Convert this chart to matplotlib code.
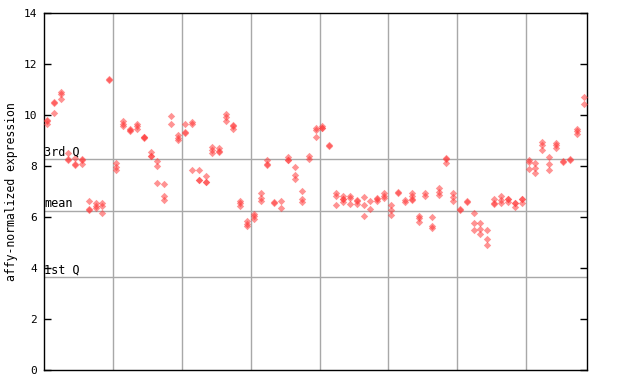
import matplotlib
matplotlib.use("Agg")
import matplotlib.pyplot as plt

# expression values per sample (replicates)
values = [
    [9.8, 9.75, 9.65], [10.5, 10.47, 10.07], [10.9, 10.8, 10.62], [8.5, 8.25, 8.22],
    [8.3, 8.06, 8.04], [8.25, 8.22, 8.07], [6.61, 6.32, 6.25], [6.54, 6.43, 6.34],
    [6.53, 6.43, 6.14], [11.4, 11.37], [8.11, 7.97, 7.82], [9.77, 9.65, 9.58],
    [9.44, 9.38, 9.4], [9.64, 9.55, 9.44], [9.15, 9.1, 9.12], [8.53, 8.4, 8.37],
    [8.2, 8.0, 7.33], [7.29, 6.8, 6.67], [9.97, 9.64], [9.22, 9.09, 9.01],
    [9.64, 9.32, 9.3], [9.73, 9.64, 7.83], [7.83, 7.46, 7.43], [7.61, 7.38, 7.35],
    [8.72, 8.62, 8.52], [8.7, 8.58, 8.55], [10.04, 9.92, 9.74], [9.6, 9.57, 9.44],
    [6.63, 6.53, 6.43], [5.85, 5.72, 5.62], [6.11, 6.01, 5.91], [6.92, 6.75, 6.6],
    [8.24, 8.06, 8.04], [6.57, 6.55], [6.63, 6.34], [8.33, 8.24, 8.22],
    [7.95, 7.64, 7.5], [7.0, 6.7, 6.56], [8.37, 8.28], [9.48, 9.39, 9.15],
    [9.57, 9.49, 9.47], [8.8, 8.77], [6.93, 6.82, 6.46], [6.82, 6.7, 6.68, 6.56],
    [6.82, 6.72, 6.51], [6.65, 6.62, 6.48], [6.77, 6.46, 6.01], [6.63, 6.32],
    [6.73, 6.7, 6.6], [6.93, 6.82, 6.73], [6.46, 6.25, 6.05], [6.96, 6.93],
    [6.67, 6.56], [6.93, 6.82, 6.68, 6.66], [6.03, 5.93, 5.8], [6.93, 6.82],
    [5.99, 5.64, 5.54], [7.12, 6.99, 6.86], [8.3, 8.27, 8.11], [6.93, 6.77, 6.61],
    [6.31, 6.28], [6.6, 6.58], [6.14, 5.75, 5.47], [5.77, 5.51, 5.34],
    [5.47, 5.12, 4.9], [6.69, 6.52, 6.5], [6.82, 6.67, 6.53], [6.7, 6.68, 6.56],
    [6.54, 6.52, 6.4], [6.7, 6.68, 6.53], [8.24, 8.15, 7.87], [8.11, 7.9, 7.72],
    [8.92, 8.81, 8.63], [8.34, 8.08, 7.84], [8.9, 8.8, 8.68], [8.18, 8.16],
    [8.25, 8.23], [9.44, 9.35, 9.25], [10.7, 10.44],
]
q1, mean_val, q3 = 3.63, 6.23, 8.25
yticks = [0, 2, 4, 6, 8, 10, 12, 14]
grid_x = [10.6, 20.6, 30.6, 40.6, 50.6, 60.6, 70.6]

fig = plt.figure(figsize=(6.4, 3.84), dpi=100)
ax = fig.add_axes([44 / 640, 1 - 369.5 / 384, 543 / 640, 356.5 / 384])

for gx in grid_x:
    ax.axvline(gx, color="#a8a8a8", lw=1, zorder=1)
for yv in (q1, mean_val, q3):
    ax.axhline(yv, color="#a8a8a8", lw=1, zorder=1)

xs, ys = [], []
for i, reps in enumerate(values, start=1):
    for v in reps:
        xs.append(i)
        ys.append(v)
ax.scatter(xs, ys, marker="D", s=14, color="#ff3a3a", alpha=0.55,
           linewidths=0, zorder=3)

mono = "DejaVu Sans Mono"
ax.text(0.55, q3 + 0.03, "3rd Q", fontsize=8.5, family=mono, va="bottom", zorder=4)
ax.text(0.55, mean_val + 0.03, "mean", fontsize=8.5, family=mono, va="bottom", zorder=4)
ax.text(0.55, q1 + 0.03, "1st Q", fontsize=8.5, family=mono, va="bottom", zorder=4)

ax.set_xlim(0.5, len(values) + 0.5)
ax.set_ylim(0, 14)
ax.set_yticks(yticks)
ax.set_yticklabels([str(t) for t in yticks], family=mono, fontsize=8)
ax.set_xticks([])
ax.tick_params(axis="y", direction="in", length=5, width=1, right=True, pad=5)
for sp in ax.spines.values():
    sp.set_linewidth(1)
ax.set_ylabel("affy-normalized expression", family=mono, fontsize=8.3, labelpad=4)

fig.savefig("out.png", dpi=100)
